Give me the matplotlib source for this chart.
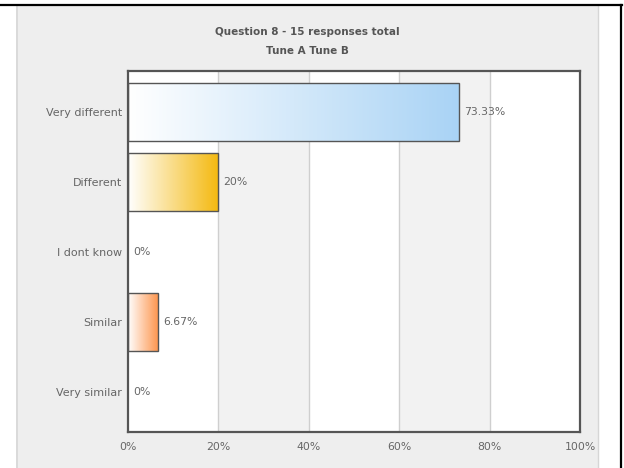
import numpy as np
import matplotlib
matplotlib.use("Agg")
import matplotlib.pyplot as plt
from matplotlib.patches import Rectangle
from matplotlib.colors import LinearSegmentedColormap
from matplotlib.lines import Line2D

categories = ["Very different", "Different", "I dont know", "Similar", "Very similar"]
values = [73.33, 20, 0, 6.67, 0]
value_labels = ["73.33%", "20%", "0%", "6.67%", "0%"]
bar_colors = ["#a9d3f5", "#f4b90f", "#ffffff", "#fd934a", "#ffffff"]
x_ticks = [0, 20, 40, 60, 80, 100]
x_tick_labels = ["0%", "20%", "40%", "60%", "80%", "100%"]
title_line1 = "Question 8 - 15 responses total"
title_line2 = "Tune A Tune B"

W, H = 624, 468
fig = plt.figure(figsize=(W / 100, H / 100), dpi=100)
fig.patch.set_facecolor("white")

# panel background
panel = Rectangle((16 / W, 0), (598 - 16) / W, (H - 6) / H, transform=fig.transFigure,
                  facecolor="#eeeeee", edgecolor="none", zorder=-5)
fig.patches.append(panel)
fig.add_artist(Line2D([16.5 / W, 16.5 / W], [0, (H - 6) / H], transform=fig.transFigure,
                      color="#d6d6d6", lw=1.2, zorder=-4))
fig.add_artist(Line2D([597.5 / W, 597.5 / W], [0, (H - 6) / H], transform=fig.transFigure,
                      color="#d6d6d6", lw=1.0, zorder=-4))
# black frame lines
fig.add_artist(Line2D([0, 622 / W], [1 - 5 / H, 1 - 5 / H], transform=fig.transFigure,
                      color="black", lw=1.6))
fig.add_artist(Line2D([621 / W, 621 / W], [0, 1 - 5 / H], transform=fig.transFigure,
                      color="black", lw=1.6))

ax = fig.add_axes([128 / W, 1 - 432 / H, (580 - 128) / W, (432 - 71) / H])
ax.set_zorder(1)
ax.set_facecolor("white")

# alternating bands
for i in range(len(x_ticks) - 1):
    if i % 2 == 1:
        ax.axvspan(x_ticks[i], x_ticks[i + 1], color="#f2f2f2", zorder=0, lw=0)
for xt in x_ticks[1:-1]:
    ax.axvline(xt, color="#cfcfcf", lw=1.0, zorder=0.5)

y = np.arange(len(categories))
bars = ax.barh(y, values, height=0.82, color="none", edgecolor="#555555", linewidth=1.0, zorder=3)

grad = np.linspace(0, 1, 256).reshape(1, -1)
for bar, val, col in zip(bars, values, bar_colors):
    if val <= 0:
        bar.set_visible(False)
        continue
    x0, y0 = bar.get_x(), bar.get_y()
    w, h = bar.get_width(), bar.get_height()
    cmap = LinearSegmentedColormap.from_list("g", ["#ffffff", col])
    im = ax.imshow(grad, cmap=cmap, aspect="auto", extent=[x0, x0 + w, y0 + h, y0],
                   zorder=2, interpolation="bicubic")
    im.set_clip_path(bar)

ax.set_xlim(0, 100)
ax.set_ylim(len(categories) - 1 + 0.571, -0.586)

for yi, val, lab in zip(y, values, value_labels):
    ax.annotate(lab, xy=(val, yi), xytext=(3.5, 0), textcoords="offset points",
                ha="left", va="center", fontsize=7.8, color="#666666", zorder=5)

ax.set_yticks(y)
ax.set_yticklabels(categories, fontsize=8.0, color="#666666")
ax.set_xticks(x_ticks)
ax.set_xticklabels(x_tick_labels, fontsize=7.8, color="#666666")
ax.tick_params(axis="both", length=0)
ax.tick_params(axis="y", pad=4.5)
ax.tick_params(axis="x", pad=7)
ax.grid(False)
for s in ax.spines.values():
    s.set_color("#555555")
    s.set_linewidth(1.6)
    s.set_zorder(6)

fig.text(307 / W, 1 - 32 / H, title_line1, ha="center", va="center", fontsize=7.5,
         fontweight="bold", color="#555555")
fig.text(307 / W, 1 - 51 / H, title_line2, ha="center", va="center", fontsize=7.5,
         fontweight="bold", color="#555555")

fig.savefig("out.png", dpi=100, facecolor=fig.get_facecolor())
